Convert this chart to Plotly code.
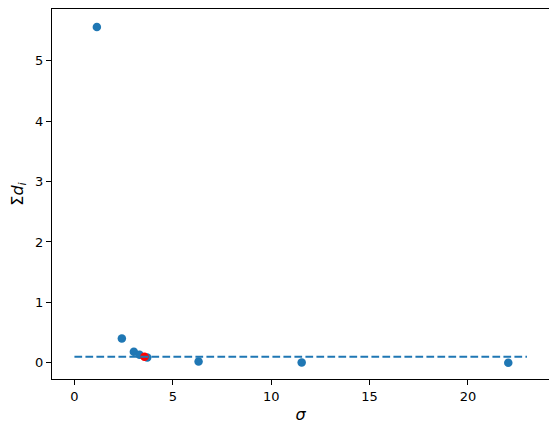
import plotly.graph_objects as go

sigma = [1.14, 2.41, 3.02, 3.31, 3.70, 6.31, 11.55, 22.05]
sum_d = [5.56, 0.40, 0.18, 0.13, 0.085, 0.02, 0.002, 0.0]
best_sigma = [3.56]
best_sum_d = [0.1]
threshold_x = [0, 23]
threshold_y = [0.1, 0.1]

blue = "#1f77b4"
fig = go.Figure()
fig.add_trace(go.Scatter(x=sigma, y=sum_d, mode="markers",
                         marker=dict(color=blue, size=8.5, line=dict(width=0))))
fig.add_trace(go.Scatter(x=best_sigma, y=best_sum_d, mode="markers",
                         marker=dict(color="red", size=8.5, line=dict(width=0))))
fig.add_trace(go.Scatter(x=threshold_x, y=threshold_y, mode="lines",
                         line=dict(color=blue, width=2, dash="7.7px,3.3px")))

axis_common = dict(showline=True, linecolor="black", linewidth=1, mirror=True,
                   ticks="outside", ticklen=5, tickwidth=1, tickcolor="black",
                   showgrid=False, zeroline=False, automargin=False,
                   tickfont=dict(family="DejaVu Sans", size=13, color="black"))
fig.update_layout(
    width=549, height=424, showlegend=False,
    plot_bgcolor="white", paper_bgcolor="white",
    margin=dict(l=44, r=8, t=1, b=53, autoexpand=False),
    font=dict(family="DejaVu Sans", size=13, color="black"),
    xaxis=dict(range=[-1.14, 24.12], tickvals=[0, 5, 10, 15, 20],
               title=dict(text="<i>σ</i>", standoff=6), **axis_common),
    yaxis=dict(range=[-0.27, 5.86], tickvals=[0, 1, 2, 3, 4, 5],
               title=dict(text="Σ<i>d</i><sub><i>i</i></sub>", standoff=8), **axis_common),
)
fig.write_html("out.html")
